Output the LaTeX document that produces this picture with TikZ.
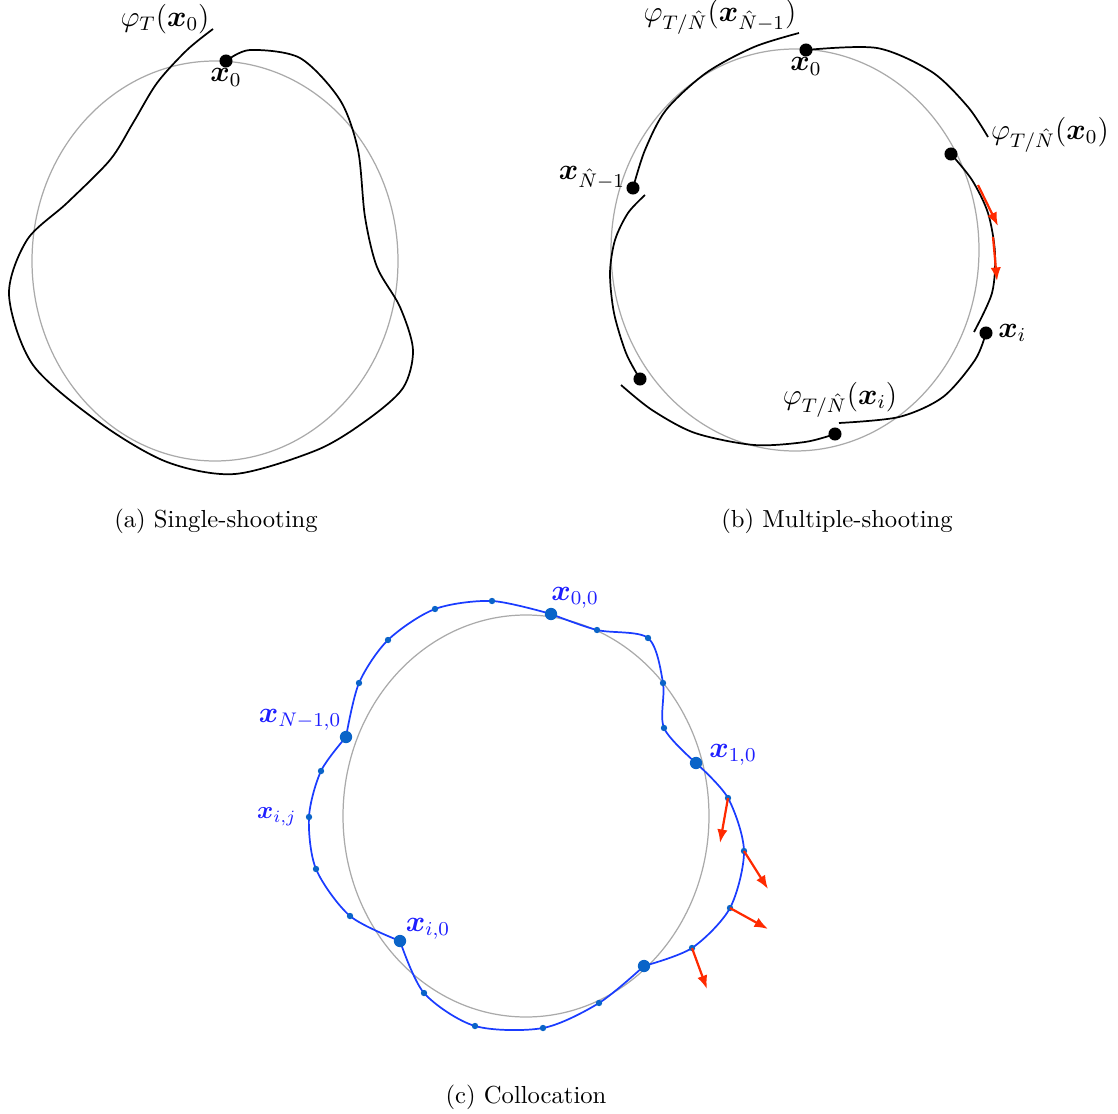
\documentclass[tikz,border=0pt]{standalone}
\usepackage{amsmath}
\usepackage{xcolor}
\usepackage{tikz}
\usetikzlibrary{positioning,arrows.meta}
\definecolor{OrbitGray}{HTML}{AAAAAA}
\definecolor{TrajBlue}{HTML}{1A3CFF}
\definecolor{DotBlue}{HTML}{0A64C8}
\definecolor{LabelBlue}{HTML}{1E1EFF}
\definecolor{VecRed}{HTML}{FF2A00}
\newcommand{\bx}{\boldsymbol{x}}

\begin{document}
\begin{tikzpicture}[
    x=0.406pt, y=-0.406pt,
    orbit/.style={draw=OrbitGray, line width=0.5pt},
    traj/.style={draw=black, line width=0.7pt},
    coll/.style={draw=TrajBlue, line width=0.7pt},
    dot/.style={circle, fill=black, inner sep=0pt, minimum size=5.3pt},
    bdot/.style={circle, fill=DotBlue, inner sep=0pt, minimum size=5pt},
    sdot/.style={circle, fill=DotBlue, inner sep=0pt, minimum size=2.6pt},
    lbl/.style={font=\large, inner sep=1pt},
    blbl/.style={font=\large, text=LabelBlue, inner sep=1pt},
    vec/.style={-{Latex[length=5.5pt,width=4.2pt]}, draw=VecRed, line width=0.9pt}
  ]
    \useasboundingbox (0,0) rectangle (1118,1114);

    % (a) single shooting
    \draw[orbit] (215,261) ellipse [x radius=183, y radius=200];
    \node[dot] (a0) at (226,61) {};
    \draw[traj] plot[smooth] coordinates {(226,61) (250,50) (300,58) (340,100)
      (358,150) (365,217) (377,267) (400,307) (413,350) (403,388) (367,420) (317,450)
      (235,474) (167,462) (100,423) (33,365) (9,295) (27,240) (67,203) (110,160)
      (133,123) (157,83) (187,50) (213,29)};
    \node[lbl] at (165,19) {$\varphi_T(\bx_0)$};
    \node[lbl, below=-1pt of a0] {$\bx_0$};
    \node at (216,521) {(a)\ Single-shooting};

    % (b) multiple shooting
    \draw[orbit] (795,250) ellipse [x radius=184, y radius=201];
    \node[dot] (b0) at (806,50) {};
    \node[dot] (b1) at (951,154) {};
    \node[dot] (bi) at (986,333) {};
    \node[dot] (b2) at (835,434) {};
    \node[dot] (b3) at (640,379) {};
    \node[dot] (bN) at (633,188) {};
    \draw[traj] plot[smooth] coordinates {(806,50) (877,48) (932,72) (968,107) (988,137)};
    \draw[traj] plot[smooth] coordinates {(951,154) (972,180) (988,213) (995,253) (992,293) (974,332)};
    \draw[traj] plot[smooth] coordinates {(986,333) (975,360) (943,397) (899,417) (839,423)};
    \draw[traj] plot[smooth] coordinates {(835,434) (805,442) (754,445) (695,433) (652,410) (621,385)};
    \draw[traj] plot[smooth] coordinates {(640,379) (626,353) (614,313) (610,273) (615,240) (628,213) (645,195)};
    \draw[traj] plot[smooth] coordinates {(633,188) (645,150) (666,110) (706,73) (754,47) (799,33)};
    \coordinate (v1) at (978,185);
    \coordinate (v2) at (993,237);
    \draw[vec] (v1) -- ++(20,41);
    \draw[vec] (v2) -- ++(4,44);
    \node[lbl, below=-1pt of b0] {$\bx_0$};
    \node[lbl] at (720,17) {$\varphi_{T/\hat{N}}(\bx_{\hat{N}-1})$};
    \node[lbl] at (1050,135) {$\varphi_{T/\hat{N}}(\bx_0)$};
    \node[lbl, above left=-4pt and 0pt of bN] {$\bx_{\hat{N}-1}$};
    \node[lbl, right=1pt of bi] {$\bx_i$};
    \node[lbl] at (840,400) {$\varphi_{T/\hat{N}}(\bx_i)$};
    \node at (837,521) {(b)\ Multiple-shooting};

    % (c) collocation
    \draw[orbit] (526,816) ellipse [x radius=183, y radius=201];
    \draw[coll] plot[smooth] coordinates {(346,737) (359,683) (388,640) (435,609) (492,601) (551,614)};
    \draw[coll] plot[smooth] coordinates {(551,614) (597,630) (648,638) (663,683) (664,728) (696,763)};
    \draw[coll] plot[smooth] coordinates {(696,763) (728,798) (744,851) (730,908) (692,948) (644,966)};
    \draw[coll] plot[smooth] coordinates {(644,966) (599,1003) (543,1028) (475,1026) (424,993) (400,941)};
    \draw[coll] plot[smooth] coordinates {(400,941) (350,916) (316,869) (309,817) (321,771) (346,737)};
    \node[bdot] (c00) at (551,614) {};
    \node[bdot] (c10) at (696,763) {};
    \node[bdot] (c20) at (644,966) {};
    \node[bdot] (ci0) at (400,941) {};
    \node[bdot] (cN0) at (346,737) {};
    \node[sdot] (s1) at (597,630) {};  \node[sdot] (s2) at (648,638) {};
    \node[sdot] (s3) at (663,683) {};  \node[sdot] (s4) at (664,728) {};
    \node[sdot] (s5) at (728,798) {};  \node[sdot] (s6) at (744,851) {};
    \node[sdot] (s7) at (730,908) {};  \node[sdot] (s8) at (692,948) {};
    \node[sdot] (s9) at (599,1003) {}; \node[sdot] (s10) at (543,1028) {};
    \node[sdot] (s11) at (475,1026) {}; \node[sdot] (s12) at (424,993) {};
    \node[sdot] (s13) at (350,916) {}; \node[sdot] (s14) at (316,869) {};
    \node[sdot] (sij) at (309,817) {}; \node[sdot] (s16) at (321,771) {};
    \node[sdot] (s17) at (359,683) {}; \node[sdot] (s18) at (388,640) {};
    \node[sdot] (s19) at (435,609) {}; \node[sdot] (s20) at (492,601) {};
    \draw[vec] (s5.center) -- ++(-8,45);
    \draw[vec] (s6.center) -- ++(24,38);
    \draw[vec] (s7.center) -- ++(38,21);
    \draw[vec] (s8.center) -- ++(15,41);
    \node[blbl] at (575,598) {$\bx_{0,0}$};
    \node[blbl] at (733,755) {$\bx_{1,0}$};
    \node[blbl] at (300,720) {$\bx_{N-1,0}$};
    \node[text=LabelBlue, left=0pt of sij] {$\bx_{i,j}$};
    \node[blbl] at (428,929) {$\bx_{i,0}$};
    \node at (526,1097) {(c)\ Collocation};
  \end{tikzpicture}
\end{document}
